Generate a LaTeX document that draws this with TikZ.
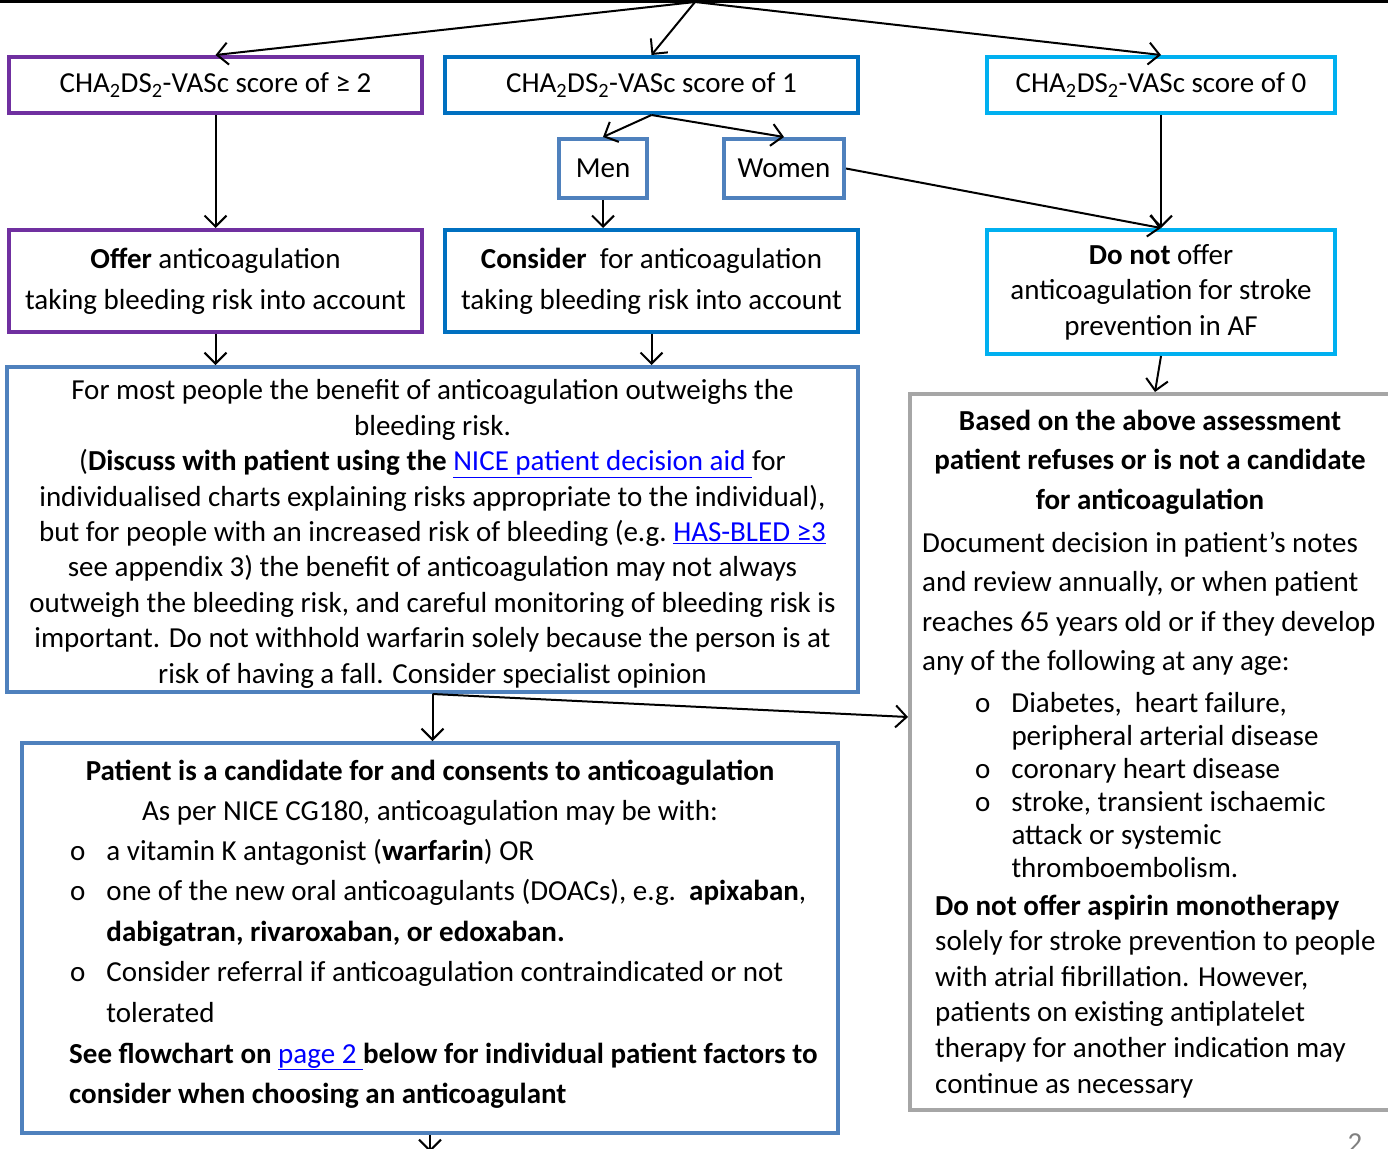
\documentclass[tikz,border=0pt]{standalone}
\usepackage{fontspec}
\setmainfont{Carlito}
\usepackage{xcolor}
\usetikzlibrary{arrows.meta,positioning,calc}

\definecolor{scorepurple}{HTML}{7030A0}
\definecolor{scoreblue}{HTML}{0070C0}
\definecolor{scorecyan}{HTML}{00B0F0}
\definecolor{stepblue}{HTML}{4F81BD}
\definecolor{refusegrey}{HTML}{A6A6A6}
\definecolor{linkblue}{HTML}{0000FF}

\newcommand{\weblink}[1]{{\color{linkblue}\underline{#1}}}
\newcommand{\chads}{CHA\textsubscript{2}DS\textsubscript{2}-VASc}

\begin{document}
\begin{tikzpicture}[x=1pt, y=-1pt, >={Straight Barb[length=11pt,width=22pt]},
  every node/.style={inner sep=0pt, font=\fontsize{29}{35.4}\selectfont},
  box/.style={draw, line width=4pt, fill=white, align=center},
  prevbox/.style={draw, line width=3pt, minimum height=62pt},
  arrow/.style={->, line width=2pt},
  linegap/.style={font=\fontsize{29}{#1}\selectfont},
  boldgap/.style={font=\fontsize{29}{#1}\selectfont\bfseries}]
\useasboundingbox (0,0) rectangle (1388,1148);

% Row above (only the lower edge shows)
\node[prevbox, minimum width=612pt] (prevA) at (296,-29) {};
\node[prevbox, minimum width=697pt] (prevB) at (950.5,-29) {};
\node[prevbox, minimum width=101pt] (prevC) at (1349.5,-29) {};
\coordinate (src) at (695,2);

% Score boxes
\node[box, draw=scorepurple, minimum width=413pt, minimum height=56pt] (s2) at (215.5,85) {\chads{} score of ≥ 2};
\node[box, draw=scoreblue, minimum width=413pt, minimum height=56pt] (s1) at (651.5,85) {\chads{} score of 1};
\node[box, draw=scorecyan, minimum width=348pt, minimum height=56pt] (s0) at (1161,85) {\chads{} score of 0};

% Men / Women
\node[box, draw=stepblue, minimum width=88pt, minimum height=59pt] (men) at (603,168.5) {Men};
\node[box, draw=stepblue, minimum width=120pt, minimum height=59pt] (women) at (784,168.5) {Women};

% Decisions
\node[box, draw=scorepurple, minimum width=413pt, minimum height=102pt, linegap=41] (offer) at (215.5,281)
  {\textbf{Offer} anticoagulation\\taking bleeding risk into account};
\node[box, draw=scoreblue, minimum width=413pt, minimum height=102pt, linegap=41] (consider) at (651.5,281)
  {\textbf{Consider}\ \ for anticoagulation\\taking bleeding risk into account};
\node[box, draw=scorecyan, minimum width=348pt, minimum height=124pt] (donot) at (1161,292)
  {\textbf{Do not} offer\\anticoagulation for stroke\\prevention in AF};

% Benefit box
\node[box, draw=stepblue, minimum width=851pt, minimum height=325pt] (benefit) at (432.5,529.5)
  {\rule{0pt}{29pt}For most people the benefit of anticoagulation outweighs the\\
   bleeding risk.\\
   (\textbf{Discuss with patient using the} \weblink{NICE patient decision aid\ }for\\
   individualised charts explaining risks appropriate to the individual),\\
   but for people with an increased risk of bleeding (e.g.\ \weblink{HAS-BLED ≥3}\\
   see appendix 3) the benefit of anticoagulation may not always\\
   outweigh the bleeding risk, and careful monitoring of bleeding risk is\\
   important. Do not withhold warfarin solely because the person is at\\
   risk of having a fall. Consider specialist opinion};

% Refuses / not a candidate
\node[box, draw=refusegrey, minimum width=490pt, minimum height=716pt] (refuse) at (1155,752) {};
\node[anchor=base, text width=600pt, align=flush center, boldgap=39.5] (refusehead) at (1150,430)
  {Based on the above assessment\\patient refuses or is not a candidate\\for anticoagulation};
\node[anchor=base west, text width=600pt, align=flush left, linegap=39.5] (refusedoc) at (922,552)
  {Document decision in patient’s notes\\and review annually, or when patient\\
   reaches 65 years old or if they develop\\any of the following at any age:};
\node[anchor=base west, linegap=33] (refuselist) at (975,712)
  {\begin{tabular}[t]{@{}l@{\hspace{21pt}}l@{}}
   o & Diabetes,\ \ heart failure,\\
     & peripheral arterial disease\\
   o & coronary heart disease\\
   o & stroke, transient ischaemic\\
     & attack or systemic\\
     & thromboembolism.
   \end{tabular}};
\node[anchor=base west, text width=600pt, align=flush left, linegap=35.6] (aspirin) at (935,915)
  {\textbf{Do not offer aspirin monotherapy}\\solely for stroke prevention to people\\
   with atrial fibrillation. However,\\patients on existing antiplatelet\\
   therapy for another indication may\\continue as necessary};

% Candidate box
\node[box, draw=stepblue, minimum width=816pt, minimum height=390pt] (candidate) at (430,938) {};
\node[anchor=base, text width=800pt, align=flush center, linegap=40] (candhead) at (430,780)
  {\textbf{Patient is a candidate for and consents to anticoagulation}\\
   As per NICE CG180, anticoagulation may be with:};
\node[anchor=base west, linegap=40.5] (druglist) at (70,860)
  {\begin{tabular}[t]{@{}l@{\hspace{21pt}}l@{}}
   o & a vitamin K antagonist (\textbf{warfarin}) OR\\
   o & one of the new oral anticoagulants (DOACs), e.g.\ \ \textbf{apixaban},\\
     & \textbf{dabigatran, rivaroxaban, or edoxaban.}\\
   o & Consider referral if anticoagulation contraindicated or not\\
     & tolerated
   \end{tabular}};
\node[anchor=base west, text width=790pt, align=flush left, linegap=40] (seechart) at (69,1063)
  {\textbf{See flowchart on} \weblink{page 2\ }\textbf{below for individual patient factors to}\\
   \textbf{consider when choosing an anticoagulant}};

% Page number
\node[anchor=north, text=gray] (pagenum) at (1355,1133) {2};

% Connectors
\foreach \t in {s2,s1,s0}
  \draw[arrow] (src) -- (\t.north);
\foreach \t in {men,women}
  \draw[arrow] (s1.south) -- (\t.north);
\draw[arrow] (s2.south) -- (offer.north);
\draw[arrow] (men.south) -- (men.south |- consider.north);
\draw[arrow] (women.east) -- (donot.north);
\draw[arrow] (s0.south) -- (donot.north);
\draw[arrow] (offer.south) -- (offer.south |- benefit.north);
\draw[arrow] (consider.south) -- (consider.south |- benefit.north);
\draw[arrow] (donot.south) -- (refuse.north);
\draw[arrow] (benefit.south) -- (benefit.south |- candidate.north);
\draw[arrow] (benefit.south) -- ([yshift=35pt]refuse.west);
\coordinate (next) at (430,1152);
\draw[arrow] (candidate.south) -- (next);
\end{tikzpicture}
\end{document}
